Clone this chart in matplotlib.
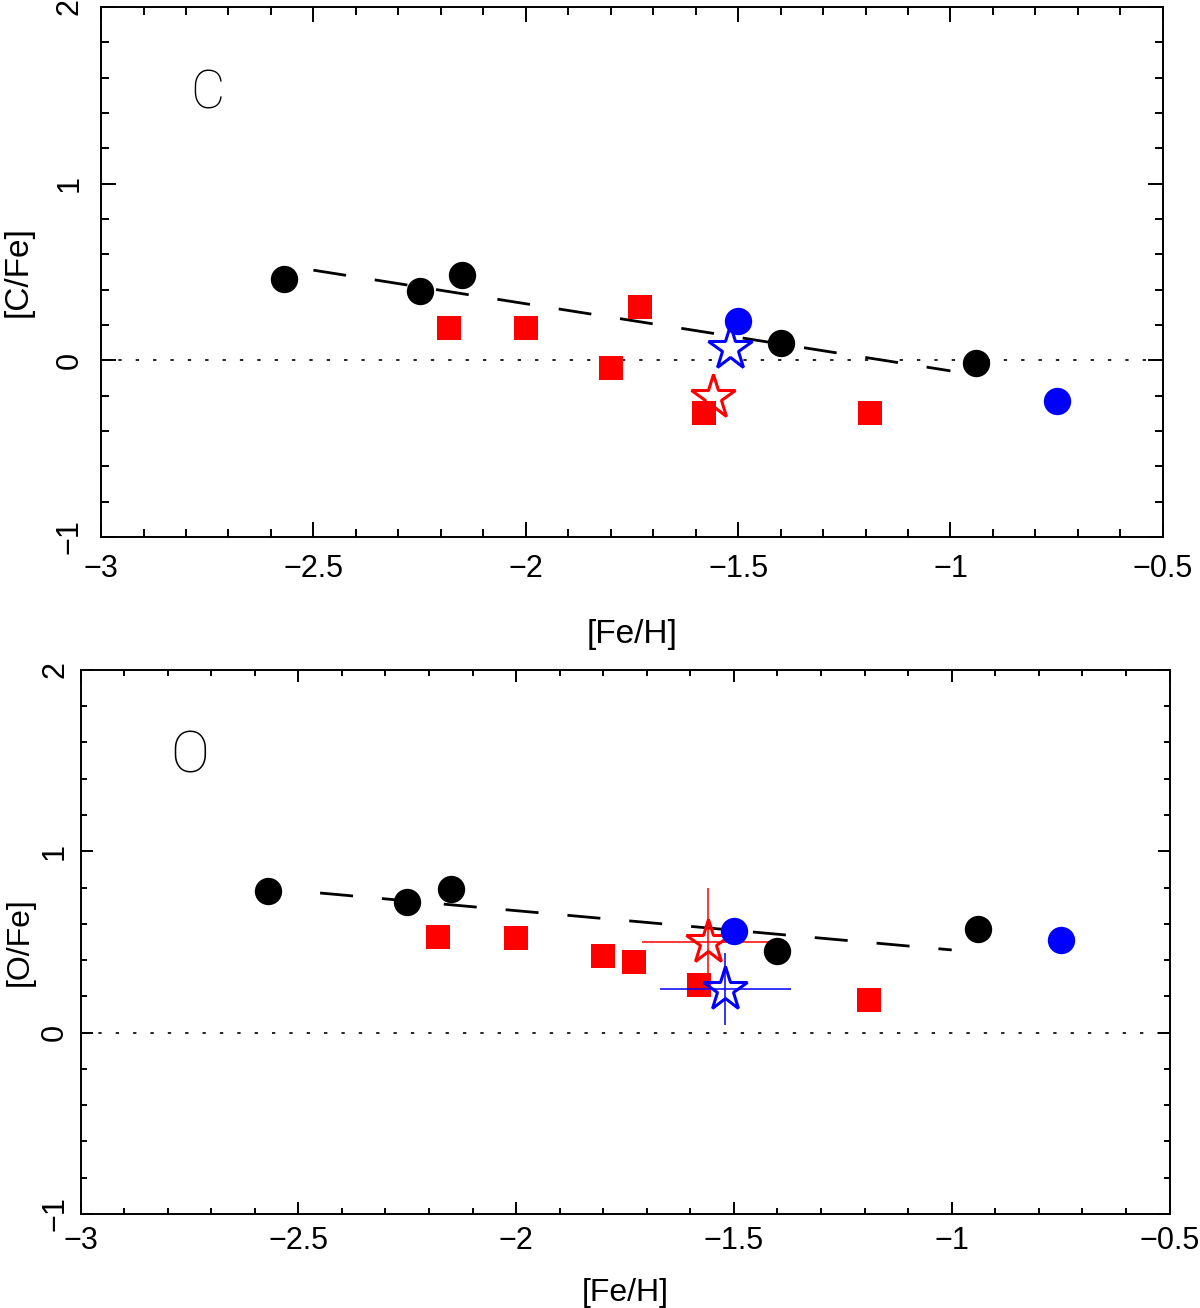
import matplotlib
matplotlib.use("Agg")
import matplotlib.pyplot as plt
from matplotlib.ticker import MultipleLocator, FuncFormatter

plt.rcParams["font.family"] = ["Liberation Sans", "DejaVu Sans"]
plt.rcParams["lines.scale_dashes"] = False

# ---- values ----
# black circles
feh_black = [-2.57, -2.25, -2.15, -1.40, -0.94]
cfe_black = [0.46, 0.39, 0.48, 0.10, -0.015]
ofe_black = [0.78, 0.72, 0.79, 0.45, 0.57]

# blue circles
feh_blue = [-1.50, -0.75]
cfe_blue = [0.22, -0.23]
ofe_blue = [0.56, 0.51]

# red squares
feh_red = [-2.18, -2.00, -1.80, -1.73, -1.58, -1.19]
cfe_red = [0.18, 0.18, -0.045, 0.30, -0.30, -0.30]
ofe_red = [0.53, 0.52, 0.42, 0.39, 0.26, 0.18]

# open stars (red, blue)
star_colors = ["red", "blue"]
feh_star = [-1.56, -1.52]
cfe_star = [-0.21, 0.07]
ofe_star = [0.50, 0.24]
feh_star_err = [0.15, 0.15]
ofe_star_err = [0.30, 0.20]

# dashed trends
trend_c_x = [-2.50, -1.00]
trend_c_y = [0.51, -0.06]
trend_o_x = [-2.45, -1.00]
trend_o_y = [0.77, 0.456]


def tick_fmt(v, pos):
    s = "%g" % v
    return s.replace("-", "\u2212")


def style(ax, major_len, minor_len, xpad, ypad):
    ax.set_xlim(-3, -0.5)
    ax.set_ylim(-1, 2)
    ax.xaxis.set_major_locator(MultipleLocator(0.5))
    ax.xaxis.set_minor_locator(MultipleLocator(0.1))
    ax.yaxis.set_major_locator(MultipleLocator(1))
    ax.yaxis.set_minor_locator(MultipleLocator(0.2))
    ax.xaxis.set_major_formatter(FuncFormatter(tick_fmt))
    ax.yaxis.set_major_formatter(FuncFormatter(tick_fmt))
    ax.tick_params(which="both", direction="in", top=True, right=True, width=1.4)
    ax.tick_params(which="major", length=major_len)
    ax.tick_params(which="minor", length=minor_len)
    ax.tick_params(axis="x", pad=xpad, labelsize=22)
    ax.tick_params(axis="y", pad=ypad, labelsize=22, labelrotation=90)
    plt.setp(ax.get_yticklabels(), va="center")
    for sp in ax.spines.values():
        sp.set_linewidth(1.4)


def panel(ax, yb, yblue, yr, ystar, tx, ty, with_err):
    ax.axhline(0, color="k", lw=1.2, dashes=(2.4, 10.1), zorder=1)
    ax.plot(tx, ty, color="k", lw=2.0, dashes=(23.8, 20.9), zorder=2)
    ax.plot(feh_red, yr, "s", color="red", ms=17.6, mew=0, zorder=3)
    for i, c in enumerate(star_colors):
        if with_err:
            ax.errorbar(feh_star[i], ystar[i], xerr=feh_star_err[i], yerr=ofe_star_err[i],
                        fmt="none", ecolor=c, elinewidth=1.1, capsize=0, zorder=4)
        ax.plot(feh_star[i], ystar[i], "*", ms=33, mfc="none", mec=c, mew=2.2, zorder=4)
    ax.plot(feh_black, yb, "o", color="black", ms=19.7, mew=0, zorder=5)
    ax.plot(feh_blue, yblue, "o", color="blue", ms=19.7, mew=0, zorder=5)


fig = plt.figure(figsize=(12, 13.08), dpi=100)

# top: carbon
ax1 = fig.add_axes([0.0842, 0.5895, 0.8848, 0.4052])
panel(ax1, cfe_black, cfe_blue, cfe_red, cfe_star, trend_c_x, trend_c_y, False)
style(ax1, 11, 5.8, 12, 12)
ax1.text(-2.75, 1.51, "C", fontsize=38, ha="center", va="center",
         family=["Roboto", "Lato", "Liberation Sans"], fontweight="light")
ax1.set_xlabel("[Fe/H]", fontsize=24)
ax1.xaxis.set_label_coords(0.5, -0.185)
ax1.xaxis.label.set_va("center")
ax1.set_ylabel("[C/Fe]", fontsize=24)
ax1.yaxis.set_label_coords(-0.078, 0.5)
ax1.yaxis.label.set_va("center")

# bottom: oxygen
ax2 = fig.add_axes([0.0671, 0.0719, 0.9075, 0.4159])
panel(ax2, ofe_black, ofe_blue, ofe_red, ofe_star, trend_o_x, trend_o_y, True)
style(ax2, 8.6, 4.3, 8.6, 7.5)
ax2.text(-2.75, 1.52, "O", fontsize=42, ha="center", va="center",
         family=["Roboto", "Lato", "Liberation Sans"], fontweight="light")
ax2.set_xlabel("[Fe/H]", fontsize=23)
ax2.xaxis.set_label_coords(0.5, -0.145)
ax2.xaxis.label.set_va("center")
ax2.set_ylabel("[O/Fe]", fontsize=23)
ax2.yaxis.set_label_coords(-0.0556, 0.5)
ax2.yaxis.label.set_va("center")

fig.savefig("out.png", dpi=100)
